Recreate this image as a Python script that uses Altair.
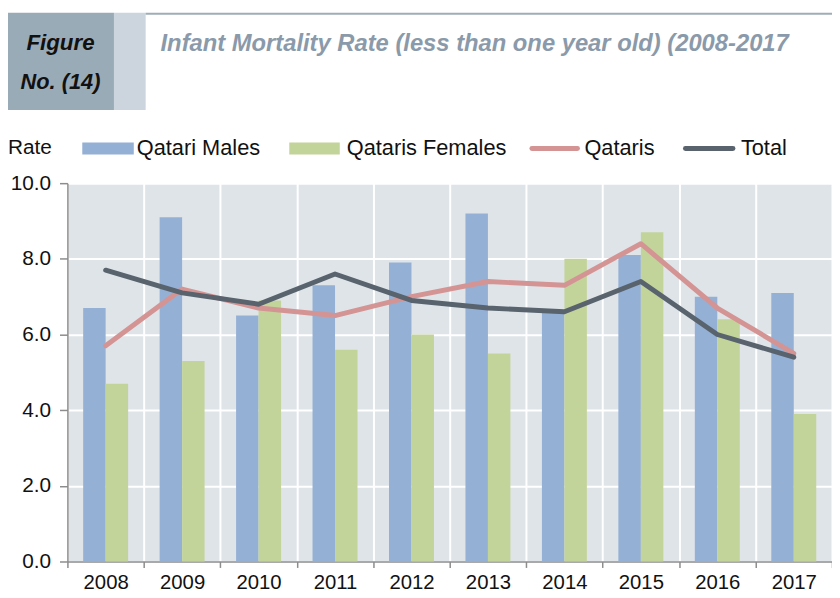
import altair as alt
import pandas as pd

# ---------------- data ----------------
years = ["2008", "2009", "2010", "2011", "2012", "2013", "2014", "2015", "2016", "2017"]
qatari_males = [6.7, 9.1, 6.5, 7.3, 7.9, 9.2, 6.6, 8.1, 7.0, 7.1]
qataris_females = [4.7, 5.3, 6.9, 5.6, 6.0, 5.5, 8.0, 8.7, 6.4, 3.9]
qataris = [5.7, 7.2, 6.7, 6.5, 7.0, 7.4, 7.3, 8.4, 6.7, 5.5]
total = [7.7, 7.1, 6.8, 7.6, 6.9, 6.7, 6.6, 7.4, 6.0, 5.4]
bar_series = ["Qatari Males", "Qataris Females"]
line_series = ["Qataris", "Total"]
y_ticks = [0, 2, 4, 6, 8, 10]
figure_label = ["Figure", "No. (14)"]
title_text = "Infant Mortality Rate (less than one year old) (2008-2017"
y_title = "Rate"

# ---------------- style ----------------
W, H = 772, 382
FONT = "Liberation Sans"
FS = 21
TXT = "#111111"
BLUE, GREEN, PINK, DARK = "#95b0d5", "#c3d49b", "#d49494", "#58636e"
AXIS_GRAY = "#8c8c8c"

bars_df = pd.DataFrame({
    "year": years * 2,
    "bar_series": [bar_series[0]] * len(years) + [bar_series[1]] * len(years),
    "value": qatari_males + qataris_females,
})
qataris_df = pd.DataFrame({"year": years, "value": qataris})
total_df = pd.DataFrame({"year": years, "value": total})

x_scale = alt.Scale(domain=years, paddingInner=0, paddingOuter=0)
y_scale = alt.Scale(domain=[0, 10], nice=False)

x_axis = alt.Axis(title=None, tickBand="extent", grid=True, gridColor="white", gridWidth=2,
                  domainColor=AXIS_GRAY, domainWidth=1.5, tickColor=AXIS_GRAY, tickWidth=1.5,
                  tickSize=6, labelFontSize=20.5, labelFont=FONT, labelColor=TXT, labelPadding=5,
                  labelAngle=0)
y_axis = alt.Axis(title=None, values=y_ticks, format=".1f", grid=True, gridColor="white",
                  gridWidth=2, domainColor=AXIS_GRAY, domainWidth=1.5, tickColor=AXIS_GRAY,
                  tickWidth=1.5, tickSize=8, labelFontSize=FS, labelFont=FONT, labelColor=TXT,
                  labelPadding=9)

X = alt.X("year:N", scale=x_scale, axis=x_axis, sort=years)
Y = alt.Y("value:Q", scale=y_scale, axis=y_axis)

bars = alt.Chart(bars_df).mark_bar().encode(
    x=X,
    xOffset=alt.XOffset("bar_series:N", sort=bar_series,
                        scale=alt.Scale(domain=bar_series, paddingInner=0, paddingOuter=0.7)),
    y=Y,
    color=alt.Color("bar_series:N", scale=alt.Scale(domain=bar_series, range=[BLUE, GREEN]),
                    legend=None),
)

line_pink = alt.Chart(qataris_df).mark_line(color=PINK, strokeWidth=5, strokeCap="round",
                                             strokeJoin="round").encode(x=X, y=Y)
line_dark = alt.Chart(total_df).mark_line(color=DARK, strokeWidth=5, strokeCap="round",
                                           strokeJoin="round").encode(x=X, y=Y)

one = pd.DataFrame({"a": [0]})


def rect(x1, x2, y1, y2, color):
    return alt.Chart(one).mark_rect(color=color).encode(
        x=alt.value(x1), x2=alt.value(x2), y=alt.value(y1), y2=alt.value(y2))


def text(x, y, s, align="left", size=FS, color=TXT, bold=False, italic=False):
    kw = {}
    if bold:
        kw["fontWeight"] = "bold"
    if italic:
        kw["fontStyle"] = "italic"
    return alt.Chart(one).mark_text(align=align, baseline="middle", fontSize=size, font=FONT,
                                    color=color, **kw).encode(
        x=alt.value(x), y=alt.value(y), text=alt.value(s))


def hrule(x1, x2, y, color, width):
    return alt.Chart(one).mark_rule(color=color, strokeWidth=width, strokeCap="round").encode(
        x=alt.value(x1), x2=alt.value(x2), y=alt.value(y))


# header (coords relative to plot origin at page (68, 182))
header = [
    rect(-70, 47, -172, -74, "#9aabb8"),
    rect(47, 79, -172, -74, "#ccd5dd"),
    rect(79, 780, -172, -170, "#9eadb9"),
    text(-7, -141, figure_label[0], align="center", size=22.5, bold=True, italic=True),
    text(-7, -102, figure_label[1], align="center", size=22, bold=True, italic=True),
    text(94, -140, title_text, size=24, color="#8a9aaa", bold=True, italic=True),
]

legend = [
    text(-60, -35, y_title, align="left"),
    rect(15, 67, -41, -29, BLUE),
    text(70, -35, bar_series[0], size=22),
    rect(224, 275, -41, -29, GREEN),
    text(282, -35, bar_series[1], size=22),
    hrule(469, 515, -35, PINK, 5),
    text(522, -35, line_series[0], size=22),
    hrule(624, 672, -35, DARK, 5),
    text(680, -35, line_series[1], size=22),
]

chart = alt.layer(bars, line_pink, line_dark, *header, *legend).properties(
    width=W, height=H,
    autosize=alt.AutoSizeParams(type="none"),
    padding={"left": 60, "top": 174, "right": 0, "bottom": 35},
).configure_view(fill="#dfe4e9", strokeOpacity=0)

chart.save("out.html", embed_options={"renderer": "svg", "actions": False})
